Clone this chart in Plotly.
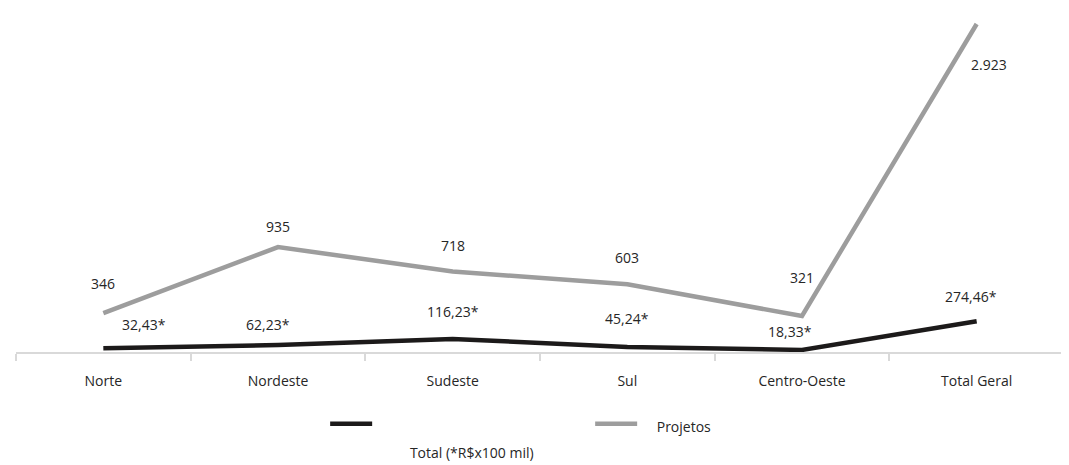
import plotly.graph_objects as go

categories = ["Norte", "Nordeste", "Sudeste", "Sul", "Centro-Oeste", "Total Geral"]
total_values = [32.43, 62.23, 116.23, 45.24, 18.33, 274.46]
projetos_values = [346, 935, 718, 603, 321, 2923]

total_name = "Total (*R$x100 mil)"
projetos_name = "Projetos"

# label offsets (pixels) relative to each point
total_label_shift = [(41, 24), (-10, 21), (0, 27), (0, 28), (-12, 18), (-6, 25)]
projetos_label_shift = [(0, 30), (0, 21), (0, 26), (0, 27), (0, 38), (12, -41)]

FONT = "'Open Sans', 'Noto Sans', sans-serif"
TXT = "#262626"
GRAY = "#9d9d9d"
BLACK = "#1c1a1a"

def fmt_total(v):
    return f"{v:.2f}".replace(".", ",") + "*"

def fmt_proj(v):
    return f"{v:,}".replace(",", ".")

NB = "\u00a0"
SP = '<span style="font-size:14px">'
fig = go.Figure()
fig.add_trace(go.Scatter(
    x=categories, y=total_values, mode="lines",
    name=NB + "<br>" + SP + NB * 9 + total_name + "</span>",
    line=dict(color=BLACK, width=4.5),
))
fig.add_trace(go.Scatter(
    x=categories, y=projetos_values, mode="lines",
    name=SP + NB * 4 + projetos_name + "</span>",
    line=dict(color=GRAY, width=4.5),
))

annotations = []
for c, v, (dx, dy) in zip(categories, total_values, total_label_shift):
    annotations.append(dict(x=c, y=v, text=fmt_total(v), showarrow=False,
                            xshift=dx, yshift=dy, font=dict(size=14, color=TXT, family=FONT)))
for c, v, (dx, dy) in zip(categories, projetos_values, projetos_label_shift):
    annotations.append(dict(x=c, y=v, text=fmt_proj(v), showarrow=False,
                            xshift=dx, yshift=dy, font=dict(size=14, color=TXT, family=FONT)))

fig.update_layout(
    width=1069, height=465,
    margin=dict(l=8, r=13, t=7, b=121, autoexpand=False),
    paper_bgcolor="white", plot_bgcolor="white",
    font=dict(family=FONT, size=14, color=TXT),
    annotations=annotations,
    showlegend=True,
    legend=dict(orientation="h", x=0.295, y=-0.155, xanchor="left", yanchor="top",
                valign="top", entrywidth=208, entrywidthmode="pixels",
                itemwidth=42, font=dict(size=20, color=TXT, family=FONT)),
    xaxis=dict(type="category", range=[-0.5, 5.5], showgrid=False, zeroline=False,
               showline=True, linecolor="#d9d9d9", linewidth=1.5,
               ticks="outside", tickson="boundaries", ticklen=7, tickcolor="#d9d9d9",
               tickwidth=1.5, ticklabelstandoff=15,
               tickfont=dict(size=14, color=TXT, family=FONT)),
    yaxis=dict(range=[0, 3003], showgrid=False, zeroline=False, showline=False,
               showticklabels=False, ticks=""),
)

fig.write_html("out.html")
